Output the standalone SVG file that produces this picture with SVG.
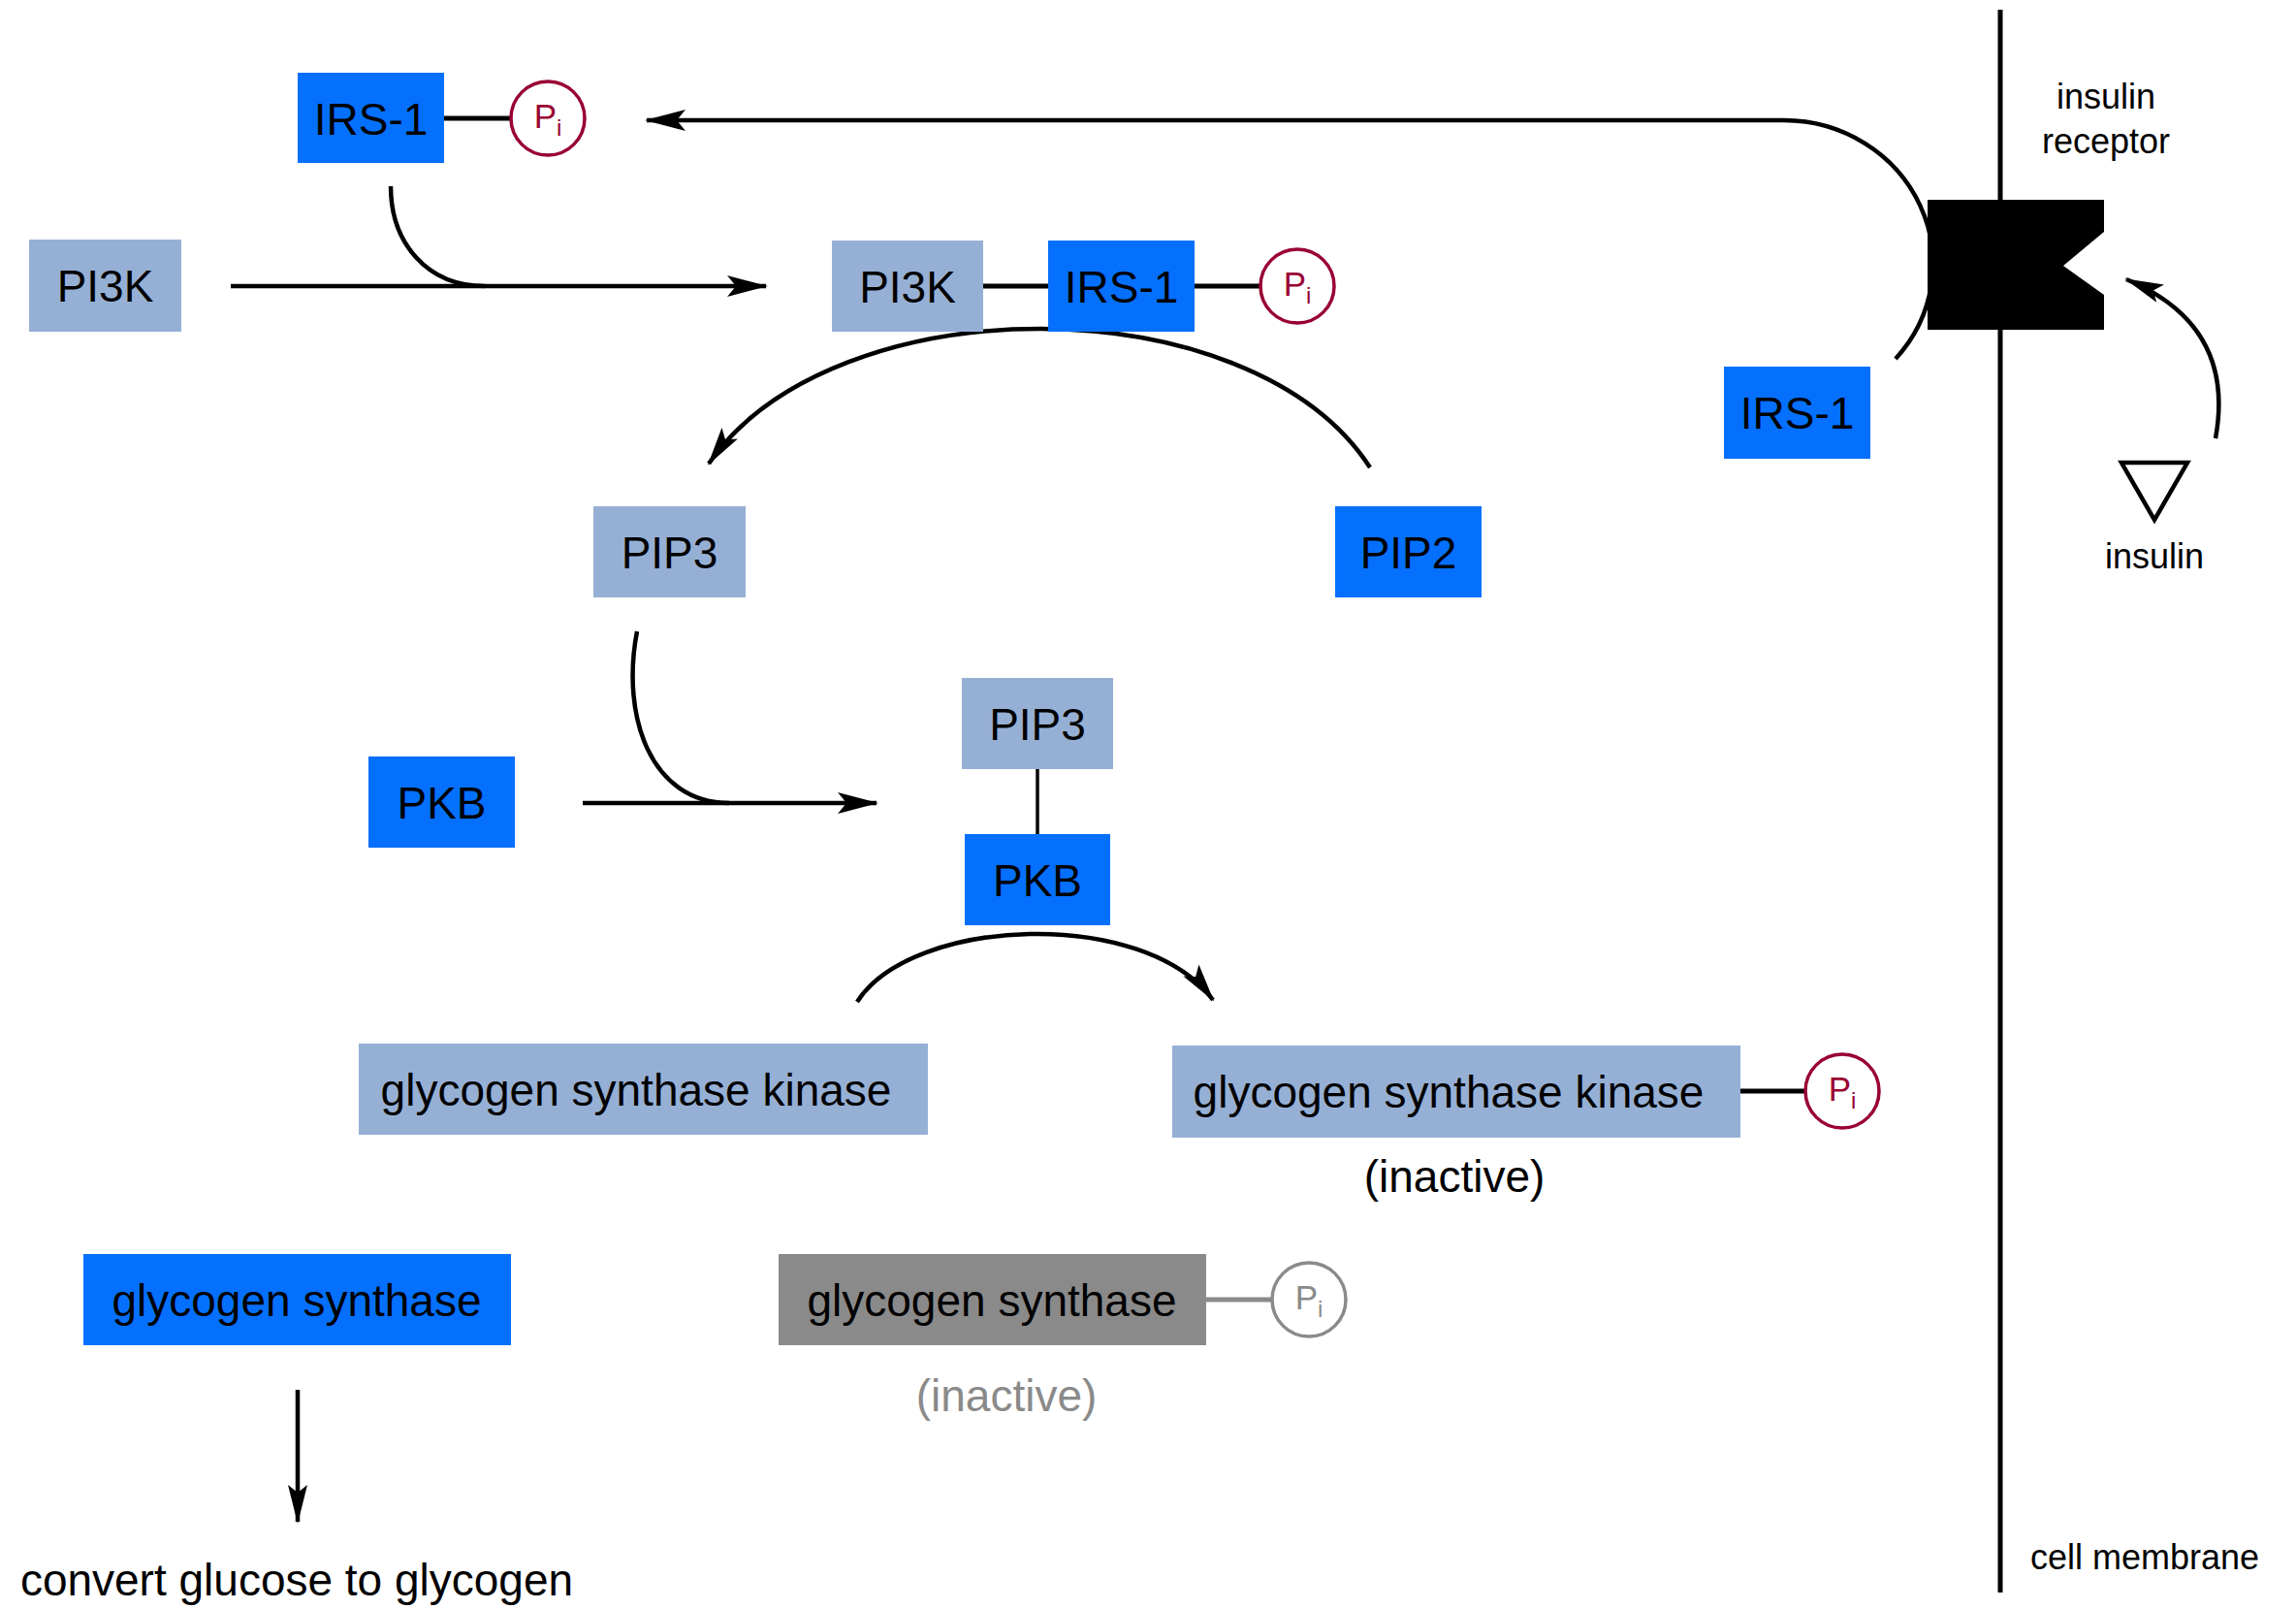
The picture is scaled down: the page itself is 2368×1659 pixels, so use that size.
<svg xmlns="http://www.w3.org/2000/svg" width="2368" height="1659" viewBox="0 0 2368 1659">
<defs>
<style>
text{font-family:"Liberation Sans",Arial,Helvetica,sans-serif;fill:#000}
.lbl{font-size:46px;text-anchor:middle}
.sm{font-size:36px;text-anchor:middle}
.blue{fill:#0670FE}
.light{fill:#96B0D5}
.grey{fill:#8A8A8A}
.bond{stroke:#000;stroke-width:5;fill:none}
.conn{stroke:#000;stroke-width:4.5;fill:none}
.pic{fill:#fff;stroke:#990033;stroke-width:3.5}
.pit{fill:#990033;font-size:35px;text-anchor:middle}
.pig{fill:#fff;stroke:#8A8A8A;stroke-width:3.5}
.pitg{fill:#8A8A8A;font-size:35px;text-anchor:middle}
</style>
<marker id="ah" markerUnits="userSpaceOnUse" markerWidth="44" markerHeight="24" viewBox="0 0 44 24" refX="40" refY="11" orient="auto">
<path d="M0,0 L42,11 L0,22 L9,11 Z" fill="#000"/>
</marker>
<marker id="ahs" markerUnits="userSpaceOnUse" markerWidth="44" markerHeight="24" viewBox="0 0 44 24" refX="38" refY="10" orient="auto">
<path d="M0,0 L40,10 L0,20 L8,10 Z" fill="#000"/>
</marker>
</defs>
<rect width="2368" height="1659" fill="#fff"/>

<g id="connectors">
<path class="conn" d="M1955,370 A154,148 0 0 0 1840,124 L667,124" marker-end="url(#ah)"/>
<path class="conn" d="M238,295 L790,295" marker-end="url(#ah)"/>
<path class="conn" stroke-width="4" d="M403,192 C403,250 440,295 500,295"/>
<path class="conn" d="M1413,482 C1290,292 860,292 731,478" marker-end="url(#ahs)"/>
<path class="conn" d="M601,828 L904,828" marker-end="url(#ah)"/>
<path class="conn" stroke-width="4" d="M657,651 C640,740 672,828 752,828"/>
<path class="conn" d="M884,1033 C940,945 1180,935 1251,1031" marker-end="url(#ahs)"/>
<path class="conn" d="M2285,452 C2300,370 2265,318 2193,288" marker-end="url(#ahs)"/>
<path class="conn" stroke-width="3.5" d="M307,1433 L307,1569" marker-end="url(#ahs)"/>
</g>

<g id="membrane">
<line x1="2063" y1="10" x2="2063" y2="1642" stroke="#000" stroke-width="5"/>
<text class="sm" x="2212" y="1618">cell membrane</text>
</g>

<g id="insulin-receptor">
<polygon points="1988,206 2170,206 2170,239 2128,274 2170,304 2170,340 1988,340" fill="#000"/>
<text class="sm" x="2172" y="112">insulin</text>
<text class="sm" x="2172" y="158">receptor</text>
</g>

<g id="insulin">
<polygon points="2188,477 2256,477 2222,536" fill="#fff" stroke="#000" stroke-width="4.5" stroke-linejoin="miter"/>
<text class="sm" x="2222" y="586">insulin</text>
</g>

<g id="irs1-top">
<line class="bond" x1="458" y1="122" x2="528" y2="122"/>
<rect class="blue" x="307" y="75" width="151" height="93"/>
<text class="lbl" x="382.5" y="139">IRS-1</text>
<circle class="pic" cx="565" cy="122" r="38"/>
<text class="pit" x="565" y="132">P<tspan font-size="24" dy="8">i</tspan></text>
</g>

<g id="pi3k-left">
<rect class="light" x="30" y="247" width="157" height="95"/>
<text class="lbl" x="108.5" y="311">PI3K</text>
</g>

<g id="pi3k-irs1-complex">
<line class="bond" x1="1014" y1="295" x2="1081" y2="295"/>
<line class="bond" x1="1232" y1="295" x2="1301" y2="295"/>
<rect class="light" x="858" y="248" width="156" height="94"/>
<text class="lbl" x="936" y="312">PI3K</text>
<rect class="blue" x="1081" y="248" width="151" height="94"/>
<text class="lbl" x="1156.5" y="312">IRS-1</text>
<circle class="pic" cx="1338" cy="295" r="38"/>
<text class="pit" x="1338" y="305">P<tspan font-size="24" dy="8">i</tspan></text>
</g>

<g id="irs1-right">
<rect class="blue" x="1778" y="378" width="151" height="95"/>
<text class="lbl" x="1853.5" y="442">IRS-1</text>
</g>

<g id="pip3">
<rect class="light" x="612" y="522" width="157" height="94"/>
<text class="lbl" x="690.5" y="586">PIP3</text>
</g>

<g id="pip2">
<rect class="blue" x="1377" y="522" width="151" height="94"/>
<text class="lbl" x="1452.5" y="586">PIP2</text>
</g>

<g id="pkb-left">
<rect class="blue" x="380" y="780" width="151" height="94"/>
<text class="lbl" x="455.5" y="844">PKB</text>
</g>

<g id="pip3-pkb-complex">
<line x1="1070" y1="793" x2="1070" y2="860" stroke="#000" stroke-width="3.5"/>
<rect class="light" x="992" y="699" width="156" height="94"/>
<text class="lbl" x="1070" y="763">PIP3</text>
<rect class="blue" x="995" y="860" width="150" height="94"/>
<text class="lbl" x="1070" y="924">PKB</text>
</g>

<g id="gsk-left">
<rect class="light" x="370" y="1076" width="587" height="94"/>
<text class="lbl" x="656" y="1140">glycogen synthase kinase</text>
</g>

<g id="gsk-right">
<line class="bond" x1="1795" y1="1125" x2="1863" y2="1125"/>
<rect class="light" x="1209" y="1078" width="586" height="95"/>
<text class="lbl" x="1494" y="1142">glycogen synthase kinase</text>
<circle class="pic" cx="1900" cy="1125" r="38"/>
<text class="pit" x="1900" y="1135">P<tspan font-size="24" dy="8">i</tspan></text>
<text class="lbl" x="1500" y="1229">(inactive)</text>
</g>

<g id="gs-active">
<rect class="blue" x="86" y="1293" width="441" height="94"/>
<text class="lbl" x="306" y="1357">glycogen synthase</text>
</g>

<g id="gs-inactive">
<line x1="1244" y1="1340" x2="1313" y2="1340" stroke="#8A8A8A" stroke-width="5"/>
<rect class="grey" x="803" y="1293" width="441" height="94"/>
<text class="lbl" x="1023" y="1357">glycogen synthase</text>
<circle class="pig" cx="1350" cy="1340" r="38"/>
<text class="pitg" x="1350" y="1350">P<tspan font-size="24" dy="8">i</tspan></text>
<text class="lbl" x="1038" y="1455" style="fill:#8A8A8A">(inactive)</text>
</g>

<g id="glycogen-output">
<text class="lbl" x="306" y="1645">convert glucose to glycogen</text>
</g>
</svg>
